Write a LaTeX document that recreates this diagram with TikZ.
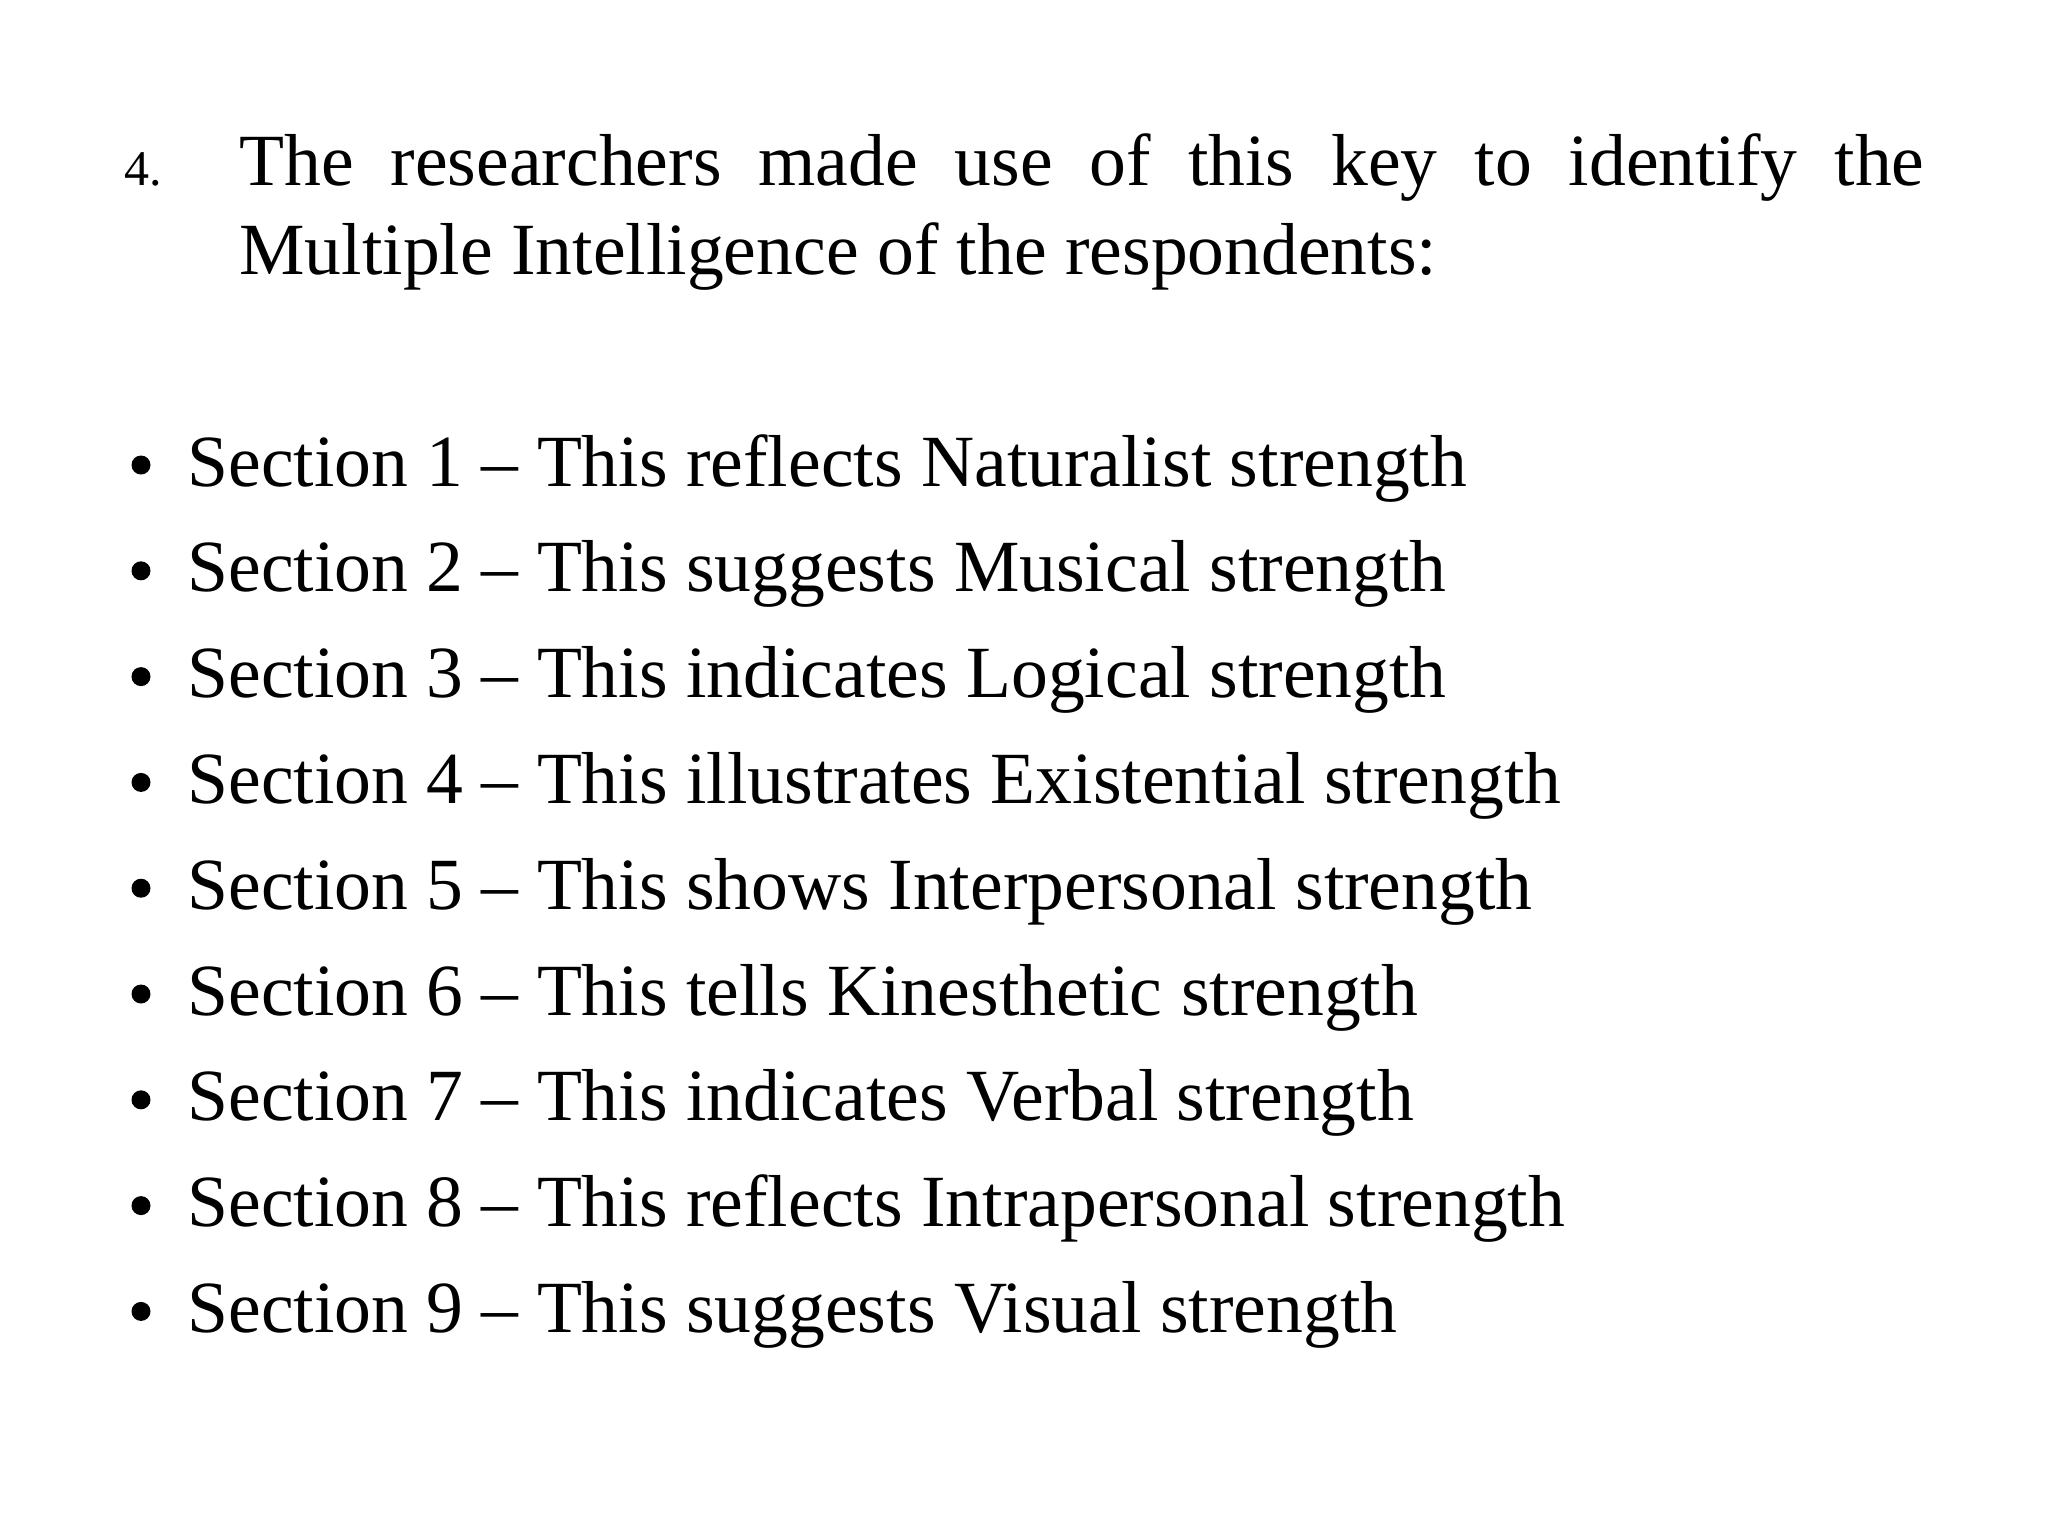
\documentclass[tikz,border=0pt]{standalone}
\usepackage{fontspec}
\setmainfont{Liberation Serif}
\begin{document}
\begin{tikzpicture}[x=0.5pt,y=-0.5pt,
  txt/.style={anchor=base west,inner sep=0pt,font=\fontsize{36.8}{44.5}\selectfont},
  bul/.style={circle,fill=black,inner sep=0pt,minimum size=9.5pt}]
\useasboundingbox (0,0) rectangle (2048,1536);
\node[anchor=base west,inner sep=0pt,font=\fontsize{25}{30}\selectfont] (num) at (124,185) {4.};
\node[txt,text width=842.5pt,align=justify] (para) at (239,185) {\hyphenpenalty=10000 The researchers made use of this key to identify the\linebreak Multiple Intelligence of the respondents:};
\foreach \i/\t in {1/This reflects Naturalist strength,2/This suggests Musical strength,3/This indicates Logical strength,4/This illustrates Existential strength,5/This shows Interpersonal strength,6/This tells Kinesthetic strength,7/This indicates Verbal strength,8/This reflects Intrapersonal strength,9/This suggests Visual strength}{
  \node[bul] (b\i) at (141,{486-21+(\i-1)*105.8}) {};
  \node[txt] (s\i) at (187,{486+(\i-1)*105.8}) {Section \i{} – \t};
}
\end{tikzpicture}
\end{document}
